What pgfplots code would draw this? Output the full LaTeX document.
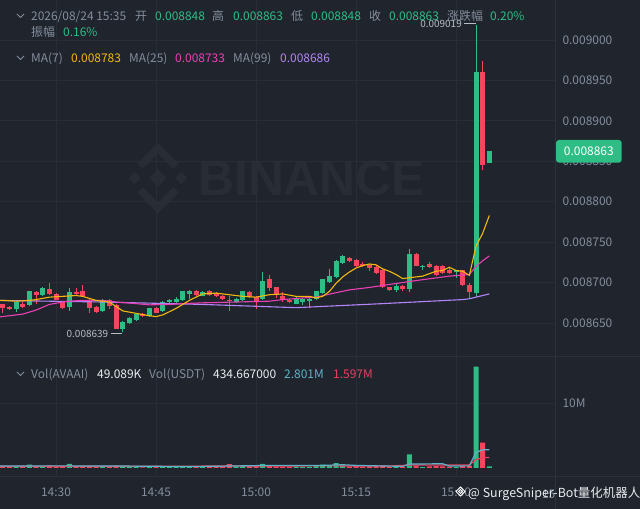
\documentclass[border=0pt]{standalone}
\usepackage{pgfplots}
\pgfplotsset{compat=1.18}
\usepackage{pgfplotstable}
\usepackage{fontspec}
\setmainfont{Noto Sans CJK SC}
\newfontfamily\wmfont{Liberation Sans}

\definecolor{bg}{HTML}{1F242D}
\definecolor{gridc}{HTML}{282E37}
\definecolor{sepc}{HTML}{2C323B}
\definecolor{txt}{HTML}{848E9C}
\definecolor{lab}{HTML}{B7BDC6}
\definecolor{wht}{HTML}{EAECEF}
\definecolor{upc}{HTML}{2EBD85}
\definecolor{dnc}{HTML}{F6465D}
\definecolor{maa}{HTML}{F0B90B}
\definecolor{mab}{HTML}{EB40B5}
\definecolor{mac}{HTML}{B385F8}
\definecolor{vcy}{HTML}{5DB3C9}
\definecolor{vrd}{HTML}{E8405E}
\definecolor{wm}{HTML}{272C35}

% candles, minute index t (14:30 = 30)
\pgfplotstableread{
t o h l c
24 0.008667 0.008677 0.008664 0.008676
26 0.008672 0.008690 0.008671 0.008689
28 0.008685 0.008694 0.008684 0.008693
32 0.008670 0.008693 0.008665 0.008688
37 0.008665 0.008680 0.008664 0.008679
40 0.008642 0.008652 0.008639 0.008651
41 0.008650 0.008657 0.008649 0.008656
42 0.008654 0.008662 0.008652 0.008661
44 0.008659 0.008669 0.008658 0.008668
46 0.008665 0.008677 0.008664 0.008676
47 0.008676 0.008680 0.008675 0.008678
48 0.008676 0.008682 0.008675 0.008680
49 0.008678 0.008690 0.008677 0.008689
50 0.008686 0.008691 0.008680 0.008690
52 0.008684 0.008689 0.008683 0.008688
57 0.008676 0.008681 0.008675 0.008680
58 0.008678 0.008690 0.008677 0.008689
61 0.008680 0.008713 0.008679 0.008702
66 0.008674 0.008682 0.008673 0.008681
67 0.008676 0.008681 0.008672 0.008680
68 0.008677 0.008681 0.008668 0.008680
69 0.008680 0.008690 0.008679 0.008689
70 0.008687 0.008705 0.008686 0.008704
71 0.008701 0.008717 0.008700 0.008708
72 0.008707 0.008728 0.008706 0.008727
73 0.008724 0.008734 0.008723 0.008733
81 0.008691 0.008700 0.008688 0.008696
83 0.008692 0.008741 0.008688 0.008735
85 0.008719 0.008722 0.008715 0.008721
90 0.008713 0.008715 0.008706 0.008715
93 0.008687 0.009019 0.008682 0.008960
95 0.008848 0.008863 0.008848 0.008863
}\up

\pgfplotstableread{
t o h l c
22 0.008673 0.008674 0.008662 0.008669
23 0.008670 0.008671 0.008666 0.008667
25 0.008674 0.008676 0.008669 0.008670
27 0.008688 0.008689 0.008674 0.008685
29 0.008692 0.008700 0.008685 0.008686
30 0.008686 0.008687 0.008678 0.008679
31 0.008676 0.008677 0.008667 0.008668
33 0.008688 0.008693 0.008685 0.008686
34 0.008689 0.008697 0.008682 0.008683
35 0.008679 0.008680 0.008662 0.008668
36 0.008670 0.008671 0.008663 0.008664
38 0.008679 0.008680 0.008667 0.008671
39 0.008672 0.008673 0.008642 0.008643
43 0.008661 0.008662 0.008658 0.008659
45 0.008669 0.008670 0.008662 0.008663
51 0.008690 0.008691 0.008684 0.008685
53 0.008689 0.008691 0.008684 0.008685
54 0.008687 0.008688 0.008682 0.008683
55 0.008684 0.008685 0.008679 0.008680
56 0.008679 0.008683 0.008665 0.008677
59 0.008688 0.008689 0.008681 0.008682
60 0.008682 0.008683 0.008667 0.008677
62 0.008705 0.008709 0.008690 0.008693
63 0.008694 0.008695 0.008681 0.008685
64 0.008683 0.008688 0.008676 0.008679
65 0.008679 0.008680 0.008675 0.008676
74 0.008731 0.008732 0.008726 0.008727
75 0.008728 0.008729 0.008719 0.008720
76 0.008723 0.008725 0.008719 0.008720
77 0.008722 0.008723 0.008714 0.008718
78 0.008719 0.008720 0.008711 0.008712
79 0.008716 0.008717 0.008693 0.008695
80 0.008694 0.008695 0.008690 0.008691
82 0.008696 0.008697 0.008689 0.008692
84 0.008735 0.008736 0.008720 0.008721
86 0.008723 0.008725 0.008718 0.008719
87 0.008721 0.008722 0.008708 0.008709
88 0.008721 0.008722 0.008711 0.008712
89 0.008715 0.008719 0.008711 0.008712
91 0.008715 0.008716 0.008696 0.008697
92 0.008697 0.008700 0.008680 0.008688
94 0.008961 0.008974 0.008839 0.008846
}\dn

% volume in millions
\pgfplotstableread{
t v
24 0.30
26 0.50
28 0.30
32 0.65
37 0.30
40 0.30
41 0.20
42 0.25
44 0.20
46 0.25
47 0.15
48 0.15
49 0.30
50 0.20
52 0.15
57 0.20
58 0.30
61 0.65
66 0.25
67 0.15
68 0.20
69 0.30
70 0.50
71 0.45
72 0.75
73 0.40
81 0.20
83 2.10
85 0.15
90 0.15
93 15.60
95 0.25
}\vup

\pgfplotstableread{
t v
22 0.25
23 0.20
25 0.20
27 0.25
29 0.40
30 0.30
31 0.30
33 0.20
34 0.30
35 0.35
36 0.25
38 0.25
39 0.35
43 0.10
45 0.15
51 0.20
53 0.20
54 0.30
55 0.25
56 0.60
59 0.25
60 0.30
62 0.40
63 0.25
64 0.20
65 0.20
74 0.20
75 0.30
76 0.20
77 0.25
78 0.30
79 0.35
80 0.15
82 0.15
84 0.35
86 0.25
87 0.30
88 0.25
89 0.20
91 0.30
92 0.35
94 3.90
}\vdn

\newcommand{\hd}[4]{\node[anchor=base west, inner sep=0pt, text=#3, font=\fontsize{12}{14}\selectfont] at (#1,#2) {#4};}
\newcommand{\chev}[1]{\draw[txt, line width=0.9bp] (17,#1+2) -- (20.5,#1-1.5) -- (24,#1+2);}

\pgfplotsset{
  candle/.style 2 args={draw=none, mark=none, forget plot, error bars/.cd, y dir=plus, y explicit,
    error mark=none, error bar style={draw=#1, solid, line width=#2}},
}

\begin{document}
\begin{tikzpicture}[x=1bp,y=1bp]
\path[use as bounding box] (0,0) rectangle (640,509);
\fill[bg] (0,0) rectangle (640,509);

% watermark
\begin{scope}[shift={(158,331)}, scale=1.22]
\fill[wm] (0,7) -- (7,0) -- (0,-7) -- (-7,0) -- cycle;
\fill[wm] (-19,5) -- (-14,0) -- (-19,-5) -- (-24,0) -- cycle;
\fill[wm] (19,5) -- (24,0) -- (19,-5) -- (14,0) -- cycle;
\fill[wm] (-17,12) -- (0,29) -- (17,12) -- (12.5,7.5) -- (0,20) -- (-12.5,7.5) -- cycle;
\fill[wm] (-17,-12) -- (0,-29) -- (17,-12) -- (12.5,-7.5) -- (0,-20) -- (-12.5,-7.5) -- cycle;
\end{scope}
\node[anchor=west, inner sep=0pt, text=wm, font={\wmfont\bfseries\fontsize{50}{50}\selectfont}] at (198,331) {BINANCE};

% price panel
\begin{axis}[
  at={(0bp,152bp)}, anchor=south west,
  width=555bp, height=357bp, scale only axis,
  xmin=21.6, xmax=104.85,
  ymin=0.008608, ymax=0.0090495,
  scaled y ticks=false,
  axis line style={draw=none}, tick style={draw=none}, major tick length=0pt,
  xtick={30,45,60,75,90}, xticklabel={\relax},
  ytick={0.00865,0.0087,0.00875,0.0088,0.00885,0.0089,0.00895,0.009},
  yticklabels={0.008650,0.008700,0.008750,0.008800,0.008850,0.008900,0.008950,0.009000},
  yticklabel pos=right,
  yticklabel style={anchor=west, xshift=4bp},
  ticklabel style={font=\fontsize{12}{14}\selectfont, text=txt},
  grid=major, major grid style={draw=gridc, line width=0.8bp},
]
% wicks
\addplot[candle={upc}{1bp}]
  table[x=t, y=l, y error plus expr={\thisrow{h}-\thisrow{l}}] {\up};
\addplot[candle={dnc}{1bp}]
  table[x=t, y=l, y error plus expr={\thisrow{h}-\thisrow{l}}] {\dn};
% bodies
\addplot[candle={upc}{5bp}]
  table[x=t, y=o, y error plus expr={\thisrow{c}-\thisrow{o}}] {\up};
\addplot[candle={dnc}{5bp}]
  table[x=t, y=c, y error plus expr={\thisrow{o}-\thisrow{c}}] {\dn};
% MA(99)
\addplot[mac, line width=1.1bp, mark=none] coordinates {
(21,0.008678) (37,0.008676) (52,0.008673) (66,0.008669) (79,0.008674) (91,0.008679) (92,0.008680) (95,0.008686)};
% MA(25)
\addplot[mab, line width=1.1bp, mark=none] coordinates {
(21,0.008657) (22,0.008658) (25,0.008661) (27,0.008666) (29,0.008673) (31,0.008676) (32,0.008677)
(34,0.008678) (37,0.008678) (39,0.008676) (42,0.008674) (44,0.0086725) (47,0.008673) (49,0.008674)
(52,0.008675) (57,0.008676) (62,0.008677) (64,0.008679) (67,0.008681) (69,0.008682) (72,0.0086875)
(74,0.008691) (77,0.008694) (79,0.0086965) (84,0.0087025) (89,0.008708) (92,0.008710) (93,0.008720)
(94,0.008727) (95,0.008733)};
% MA(7)
\addplot[maa, line width=1.1bp, mark=none] coordinates {
(21,0.008678) (22,0.008678) (24,0.008677) (26,0.008678) (27,0.008679) (29,0.008682) (31,0.008683)
(33,0.008684) (34,0.008683) (36,0.008678) (38,0.008676) (40,0.008665) (42,0.008662) (44,0.008659)
(45,0.008658) (46,0.008660) (48,0.008668) (50,0.008678) (52,0.008686) (54,0.008687) (56,0.008685)
(58,0.008683) (60,0.008682) (62,0.008685) (64,0.008686) (66,0.008683) (68,0.008683) (69,0.008681)
(70,0.008683) (71,0.008689) (72,0.008699) (73,0.008707) (74,0.008713) (75,0.008718) (76,0.008721)
(77,0.008723) (78,0.008722) (79,0.008717) (80,0.008714) (81,0.008710) (82,0.008705) (83,0.008706)
(84,0.008707) (85,0.008708) (86,0.008711) (87,0.008714) (88,0.008715) (89,0.008719) (90,0.008715)
(91,0.008714) (92,0.008709) (93,0.008745) (94,0.008761) (95,0.008783)};
\end{axis}

% volume panel
\begin{axis}[
  at={(0bp,32bp)}, anchor=south west,
  width=555bp, height=120bp, scale only axis,
  xmin=21.6, xmax=104.85,
  ymin=-1.385, ymax=17.08,
  axis line style={draw=none}, tick style={draw=none}, major tick length=0pt,
  xtick={30,45,60,75,90}, xticklabels={14:30,14:45,15:00,15:15,15:30},
  xticklabel style={anchor=base, yshift=-20bp},
  ytick={10}, yticklabels={10M},
  yticklabel pos=right,
  yticklabel style={anchor=west, xshift=4bp},
  ticklabel style={font=\fontsize{12}{14}\selectfont, text=txt},
  grid=major, major grid style={draw=gridc, line width=0.8bp},
]
\addplot[ybar, bar width=5bp, bar shift=0pt, fill=upc, draw=none] table[x=t, y=v] {\vup};
\addplot[ybar, bar width=5bp, bar shift=0pt, fill=dnc, draw=none] table[x=t, y=v] {\vdn};
\addplot[vrd, line width=1.2bp, mark=none] coordinates {
(21,0.28) (40,0.28) (60,0.30) (70,0.33) (80,0.30) (83,0.45) (92,0.45) (93,1.3) (94,1.6) (95,1.6)};
\addplot[vcy, line width=1.2bp, mark=none] coordinates {
(21,0.30) (30,0.33) (40,0.30) (50,0.22) (56,0.30) (62,0.40) (70,0.40) (73,0.50) (75,0.40) (82,0.25)
(83,0.60) (84,0.62) (88,0.65) (89,0.30) (92,0.33) (93,2.4) (94,2.8) (95,2.8)};
\end{axis}

% clipped last time label
\begin{scope}
\clip (0,0) rectangle (555,32);
\node[anchor=base, inner sep=0pt, text=txt, font=\fontsize{12}{14}\selectfont] at (557,10) {15:45};
\end{scope}

% panel separators
\draw[sepc, line width=1bp] (0,152) -- (640,152);
\draw[sepc, line width=1bp] (0,32) -- (640,32);
\draw[sepc, line width=1bp] (555,0) -- (555,509);

% header
\chev{493}
\hd{31}{488.3}{txt}{2026/08/24 15:35}
\hd{135}{488.3}{txt}{开}
\hd{155}{488.3}{upc}{0.008848}
\hd{212}{488.3}{txt}{高}
\hd{233}{488.3}{upc}{0.008863}
\hd{291}{488.3}{txt}{低}
\hd{311}{488.3}{upc}{0.008848}
\hd{369}{488.3}{txt}{收}
\hd{389}{488.3}{upc}{0.008863}
\hd{447}{488.3}{txt}{涨跌幅}
\hd{490}{488.3}{upc}{0.20\%}
\hd{31}{472.3}{txt}{振幅}
\hd{63}{472.3}{upc}{0.16\%}
\chev{451}
\hd{31}{446.3}{txt}{MA(7)}
\hd{71}{446.3}{maa}{0.008783}
\hd{129}{446.3}{txt}{MA(25)}
\hd{175}{446.3}{mab}{0.008733}
\hd{233}{446.3}{txt}{MA(99)}
\hd{280}{446.3}{mac}{0.008686}
\chev{135}
\hd{31}{130}{txt}{Vol(AVAAI)}
\hd{97}{130}{wht}{49.089K}
\hd{149}{130}{txt}{Vol(USDT)}
\hd{213}{130}{wht}{434.667000}
\hd{284}{130}{vcy}{2.801M}
\hd{333}{130}{vrd}{1.597M}

% high / low markers
\node[anchor=east, inner sep=0pt, text=lab, font=\fontsize{10}{12}\selectfont] at (462,485) {0.009019};
\draw[lab, line width=1bp] (464,485) -- (476,485);
\node[anchor=west, inner sep=0pt, text=lab, font=\fontsize{10}{12}\selectfont] at (66.5,175) {0.008639};
\draw[lab, line width=1bp] (111,175) -- (122,175);

% last price tag
\fill[upc, rounded corners=3bp] (556,346.3) rectangle (621.7,369);
\node[text=white, inner sep=0pt, font=\fontsize{12}{14}\selectfont] at (588.8,357.7) {0.008863};

% bottom watermark
\draw[white, line width=1bp] (460.5,22) -- (465,17.5) -- (460.5,13) -- (456,17.5) -- cycle;
\draw[white, line width=0.8bp] (460.5,19.5) -- (462.5,17.5) -- (460.5,15.5) -- (458.5,17.5) -- cycle;
\node[anchor=base west, inner sep=0pt, text=wht, font=\fontsize{12.5}{14}\selectfont] at (468,11) {@ SurgeSniper-Bot量化机器人};
\end{tikzpicture}
\end{document}
